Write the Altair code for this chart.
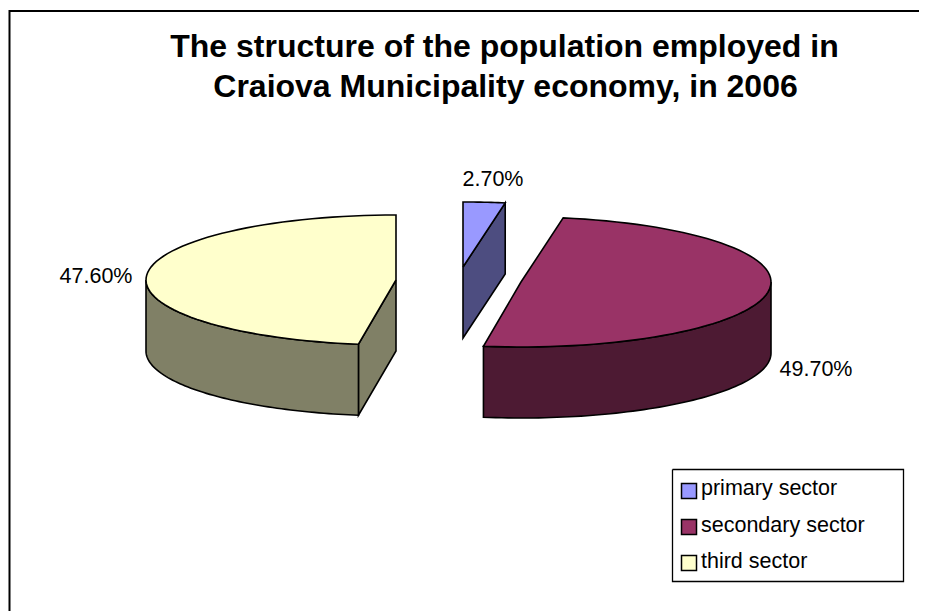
import math
import altair as alt
import pandas as pd

# --- chart values
categories = ["primary sector", "secondary sector", "third sector"]
shares = [2.7, 49.7, 47.6]
labels = ["2.70%", "49.70%", "47.60%"]
top_colors = ["#9999FF", "#993366", "#FFFFCC"]
side_colors = ["#4D4D80", "#4D1A33", "#808066"]
title_lines = ["The structure of the population employed in",
               "Craiova Municipality economy, in 2006"]

# --- drawing geometry (pixels of the page), pie wedges are derived from shares
W, H = 911, 603
A, B, DEPTH = 250, 65, 71
centers = [(463, 267), (521, 282), (396, 280)]


def ell(c, deg):
    t = math.radians(deg)
    return (c[0] + A * math.sin(t), c[1] - B * math.cos(t))


def arc(c, a0, a1, n=70):
    return [ell(c, a0 + (a1 - a0) * k / n) for k in range(n + 1)]


def down(pts):
    return [(x, y + DEPTH) for x, y in pts]


angles = [0]
for s in shares:
    angles.append(angles[-1] + s * 3.6)

polys = []  # (points, fill)
c = centers[0]
p = ell(c, angles[1])
polys.append(([c, p, (p[0], p[1] + DEPTH), (c[0], c[1] + DEPTH)], side_colors[0]))
polys.append(([c] + arc(c, angles[0], angles[1], 12), top_colors[0]))
c = centers[1]
w = arc(c, 90, angles[2])
polys.append((w + down(w)[::-1], side_colors[1]))
polys.append(([c] + arc(c, angles[1], angles[2]), top_colors[1]))
c = centers[2]
p = ell(c, angles[2])
polys.append(([c, p, (p[0], p[1] + DEPTH), (c[0], c[1] + DEPTH)], side_colors[2]))
w = arc(c, angles[2], 270)
polys.append((w + down(w)[::-1], side_colors[2]))
polys.append(([c] + arc(c, angles[2], angles[3]), top_colors[2]))

xs = alt.Scale(domain=[8, 8 + W], nice=False, zero=False)
ys = alt.Scale(domain=[8 + H, 8], nice=False, zero=False)
X = lambda f="x": alt.X(f + ":Q", scale=xs, axis=None)
Y = lambda f="y": alt.Y(f + ":Q", scale=ys, axis=None)


def path_layer(pts, sw, fill=None):
    df = pd.DataFrame({"x": [q[0] for q in pts], "y": [q[1] for q in pts], "i": range(len(pts))})
    kw = {"fill": fill} if fill else {}
    return alt.Chart(df).mark_line(stroke="black", strokeWidth=sw, strokeJoin="miter", **kw).encode(
        x=X(), y=Y(), order="i:Q")


def poly_layer(pts, fill, sw=1.6):
    return path_layer(list(pts) + [pts[0]], sw, fill)


def rect_pts(x0, y0, x1, y1):
    return [(x0, y0), (x1, y0), (x1, y1), (x0, y1)]


layers = [path_layer([(9.5, 611), (9.5, 11), (919, 11)], 2)]
layers += [poly_layer(p, f) for p, f in polys]

lab = pd.DataFrame({"t": labels, "x": [493, 816, 96], "y": [180, 370, 277]})
layers.append(alt.Chart(lab).mark_text(font="Liberation Sans", fontSize=21.5, color="black", align="center", baseline="middle").encode(
    x=X(), y=Y(), text="t:N"))

tt = pd.DataFrame({"t": title_lines, "x": [504.5, 505.5], "y": [47, 87]})
layers.append(alt.Chart(tt).mark_text(font="Liberation Sans", fontSize=32, fontWeight="bold", color="black", align="center", baseline="middle").encode(
    x=X(), y=Y(), text="t:N"))

layers.append(poly_layer(rect_pts(672.5, 469.5, 903.5, 581.5), "white", 1.3))
leg = pd.DataFrame({"c": categories, "x": [689, 689, 689], "y": [491, 527, 563],
                    "tx": [701, 701, 701], "ty": [489, 526, 562]})
layers.append(alt.Chart(leg).mark_point(shape="square", filled=True, size=225, stroke="black", strokeWidth=1.5, opacity=1).encode(
    x=X(), y=Y(),
    fill=alt.Fill("c:N", scale=alt.Scale(domain=categories, range=top_colors), legend=None)))
layers.append(alt.Chart(leg).mark_text(font="Liberation Sans", fontSize=21.5, color="black", align="left", baseline="middle").encode(
    x=X("tx"), y=Y("ty"), text="c:N"))

chart = alt.layer(*layers).properties(width=W, height=H, padding=0,
    autosize=alt.AutoSizeParams(type="none")).configure_view(stroke=None)
chart.save("out.html", embed_options={"renderer": "svg", "actions": False})
